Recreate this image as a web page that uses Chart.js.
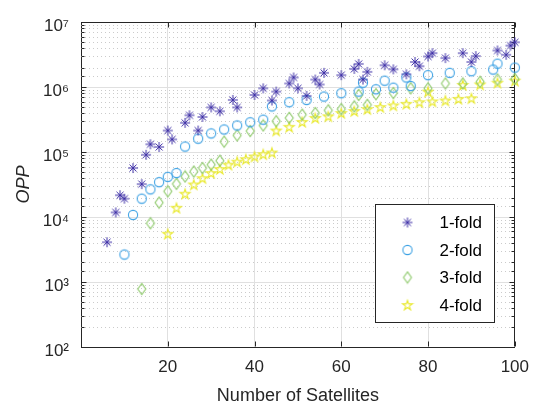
<!DOCTYPE html>
<html><head><meta charset="utf-8">
<script src="https://cdn.jsdelivr.net/npm/chart.js@4/dist/chart.umd.min.js"></script>
<style>html,body{margin:0;padding:0;background:#fff;}#wrap{width:539px;height:407px;}</style>
</head><body><div id="wrap"><canvas id="c" width="539" height="407"></canvas></div>
<script>
// ---------------- data ----------------
const seriesLabels = ['1-fold', '2-fold', '3-fold', '4-fold'];

const fold1X = [6,8,9,10,12,14,15,16,18,20,21,24,25,27,28,30,32,35,36,40,42,44,45,48,49,50,52,54,55,56,60,63,64,65,66,70,72,75,77,78,80,81,84,88,90,91,96,98,99,100];
const fold1Y = [4100,11800,21700,19200,56900,32200,91000,132000,120000,215000,157000,282000,369000,215000,348000,488000,425000,637000,488000,758000,959000,624000,855000,1140000,1410000,959000,733000,1310000,1100000,1660000,1530000,1910000,2280000,1310000,1720000,2170000,1880000,1580000,2440000,2100000,2970000,3340000,2800000,3340000,2440000,3010000,3670000,3150000,4360000,4910000];

const fold2X = [10,12,14,16,18,20,22,24,27,30,33,36,39,42,44,48,52,56,60,64,65,68,70,72,75,76,80,85,90,95,96,100];
const fold2Y = [2650,10800,19200,26700,34500,41600,47700,122000,161000,194000,223000,257000,288000,316000,505000,587000,637000,718000,806000,855000,1170000,927000,1260000,982000,1410000,1040000,1530000,1660000,1760000,1870000,2300000,2000000];

const fold3X = [14,16,18,20,22,24,26,28,30,32,33,36,39,42,45,48,51,54,57,60,63,64,66,68,72,76,80,84,88,92,96,100];
const fold3Y = [780,8020,16700,24900,32500,42200,50200,56900,64100,73800,145000,181000,211000,257000,299000,336000,377000,400000,440000,460000,505000,758000,534000,778000,813000,959000,959000,1140000,1140000,1210000,1310000,1340000];

const fold4X = [20,22,24,26,28,30,32,34,36,38,40,42,44,45,48,51,54,57,60,63,66,69,72,75,78,80,81,84,87,88,90,92,96,100];
const fold4Y = [5530,13900,22900,31800,39700,47700,54900,64100,71300,78000,85700,92900,98600,215000,245000,292000,336000,356000,400000,429000,460000,493000,524000,553000,587000,855000,603000,624000,659000,1080000,676000,1100000,1170000,1260000];

const xTickValues = [20, 40, 60, 80, 100];
const yTickExponents = [2, 3, 4, 5, 6, 7];
const xTitle = 'Number of Satellites';
const yTitle = 'OPP';

// ---------------- style ----------------
const FONT = "'Liberation Sans', Arial, Helvetica, sans-serif";
const AX = '#262626';
const colors = ['#3d2ea6', '#3ea2e4', '#8fca6c', '#e9e92e'];
const SUP = {'0':'\u2070','1':'\u00b9','2':'\u00b2','3':'\u00b3','4':'\u2074','5':'\u2075','6':'\u2076','7':'\u2077','8':'\u2078','9':'\u2079'};
const isDecade = v => Math.abs(Math.log10(v) - Math.round(Math.log10(v))) < 1e-9;

function makeMarker(kind, color) {
  const s = 14, m = s / 2;
  const c = document.createElement('canvas');
  c.width = s; c.height = s;
  const g = c.getContext('2d');
  g.strokeStyle = color; g.lineWidth = 1.1; g.lineJoin = 'miter';
  g.beginPath();
  if (kind === 'asterisk') {
    g.lineWidth = 1;
    const r = 5, d = r * 0.7;
    g.moveTo(m - r, m); g.lineTo(m + r, m);
    g.moveTo(m, m - r); g.lineTo(m, m + r);
    g.moveTo(m - d, m - d); g.lineTo(m + d, m + d);
    g.moveTo(m - d, m + d); g.lineTo(m + d, m - d);
  } else if (kind === 'circle') {
    g.arc(m, m, 4.6, 0, Math.PI * 2);
  } else if (kind === 'diamond') {
    g.moveTo(m, m - 5.6); g.lineTo(m + 4, m); g.lineTo(m, m + 5.6); g.lineTo(m - 4, m); g.closePath();
  } else {
    const R = 5.2, r = R * 0.382;
    for (let k = 0; k < 10; k++) {
      const ang = -Math.PI / 2 + k * Math.PI / 5;
      const rr = k % 2 ? r : R;
      const px = m + rr * Math.cos(ang), py = m + 0.5 + rr * Math.sin(ang);
      if (k === 0) g.moveTo(px, py); else g.lineTo(px, py);
    }
    g.closePath();
  }
  g.stroke();
  return c;
}
const markers = [
  makeMarker('asterisk', colors[0]),
  makeMarker('circle', colors[1]),
  makeMarker('diamond', colors[2]),
  makeMarker('pentagram', colors[3])
];
const xs = [fold1X, fold2X, fold3X, fold4X];
const ys = [fold1Y, fold2Y, fold3Y, fold4Y];

const datasets = seriesLabels.map((lab, i) => ({
  label: lab,
  data: xs[i].map((x, j) => ({x: x, y: ys[i][j]})),
  pointStyle: markers[i],
  pointRadius: 5,
  borderColor: colors[i],
  backgroundColor: 'rgba(0,0,0,0)',
  showLine: false,
  clip: false
}));

const decor = {
  id: 'decor',
  beforeDatasetsDraw(chart) {
    const {ctx, chartArea: a, scales: {x, y}} = chart;
    ctx.save();
    // minor dotted grid on log axis
    ctx.strokeStyle = '#cbcbcb'; ctx.lineWidth = 1; ctx.setLineDash([1, 3]);
    y.ticks.forEach(t => {
      if (isDecade(t.value)) return;
      const py = Math.round(y.getPixelForValue(t.value)) + 0.5;
      ctx.beginPath(); ctx.moveTo(a.left, py); ctx.lineTo(a.right, py); ctx.stroke();
    });
    ctx.setLineDash([]);
    // box top/right
    ctx.strokeStyle = AX; ctx.lineWidth = 1;
    const L = Math.round(a.left) + 0.5, R = Math.round(a.right) - 0.5, T = Math.round(a.top) + 0.5, B = Math.round(a.bottom) - 0.5;
    ctx.beginPath(); ctx.moveTo(L, T); ctx.lineTo(R, T); ctx.lineTo(R, B); ctx.stroke();
    // inward ticks
    ctx.beginPath();
    x.ticks.forEach(t => {
      const px = Math.round(x.getPixelForValue(t.value)) + 0.5;
      ctx.moveTo(px, B); ctx.lineTo(px, B - 5);
      ctx.moveTo(px, T); ctx.lineTo(px, T + 5);
    });
    y.ticks.forEach(t => {
      const len = isDecade(t.value) ? 5 : 3;
      const py = Math.round(y.getPixelForValue(t.value)) + 0.5;
      ctx.moveTo(L, py); ctx.lineTo(L + len, py);
      ctx.moveTo(R, py); ctx.lineTo(R - len, py);
    });
    ctx.stroke();
    ctx.restore();
  },
  afterDatasetsDraw(chart) {
    const {ctx, chartArea: a} = chart;
    ctx.save();
    const w = 119, h = 118;
    const bx = Math.round(a.right - 21 - w) + 0.5, by = Math.round(a.bottom - 25 - h) + 0.5;
    ctx.fillStyle = '#fff'; ctx.fillRect(bx, by, w, h);
    ctx.strokeStyle = AX; ctx.lineWidth = 1; ctx.strokeRect(bx, by, w, h);
    ctx.font = '17px ' + FONT; ctx.fillStyle = '#000'; ctx.textBaseline = 'middle'; ctx.textAlign = 'left';
    chart.data.datasets.forEach((ds, i) => {
      const cy = by + 18 + i * 27.5;
      const img = ds.pointStyle;
      ctx.drawImage(img, bx + 32 - img.width / 2, cy - img.height / 2);
      ctx.fillText(ds.label, bx + 64, cy + 1);
    });
    ctx.restore();
  }
};

Chart.defaults.font.family = FONT;
Chart.defaults.color = AX;

new Chart(document.getElementById('c'), {
  type: 'scatter',
  data: {datasets: datasets},
  options: {
    responsive: false,
    devicePixelRatio: 1,
    animation: false,
    layout: {padding: {left: 0, top: 18, right: 22, bottom: 0}},
    plugins: {legend: {display: false}, tooltip: {enabled: false}},
    scales: {
      x: {
        type: 'linear', min: 0, max: 100,
        afterBuildTicks: s => { s.ticks = xTickValues.map(v => ({value: v})); },
        afterFit: s => { s.height = 60; },
        ticks: {font: {size: 17}, color: AX, padding: 10, maxRotation: 0, autoSkip: false},
        grid: {color: '#e0e0e0', drawTicks: false},
        border: {color: AX, width: 1},
        title: {display: true, text: xTitle, font: {size: 18}, color: AX, padding: {top: 0, bottom: 0}}
      },
      y: {
        type: 'logarithmic', min: 100, max: 1e7,
        afterFit: s => { s.width = 81; },
        ticks: {
          font: {size: 17}, color: AX, padding: 12, autoSkip: false, labelOffset: 4,
          callback: v => {
            if (!isDecade(v)) return '';
            const e = Math.round(Math.log10(v));
            return yTickExponents.includes(e) ? '10' + String(e).split('').map(ch => SUP[ch]).join('') : '';
          }
        },
        grid: {color: c => (c.tick && isDecade(c.tick.value)) ? '#e0e0e0' : 'rgba(0,0,0,0)', drawTicks: false},
        border: {color: AX, width: 1},
        title: {display: true, text: yTitle, font: {size: 18, style: 'italic'}, color: AX, padding: {top: 13, bottom: 0}}
      }
    }
  },
  plugins: [decor]
});
</script></body></html>
